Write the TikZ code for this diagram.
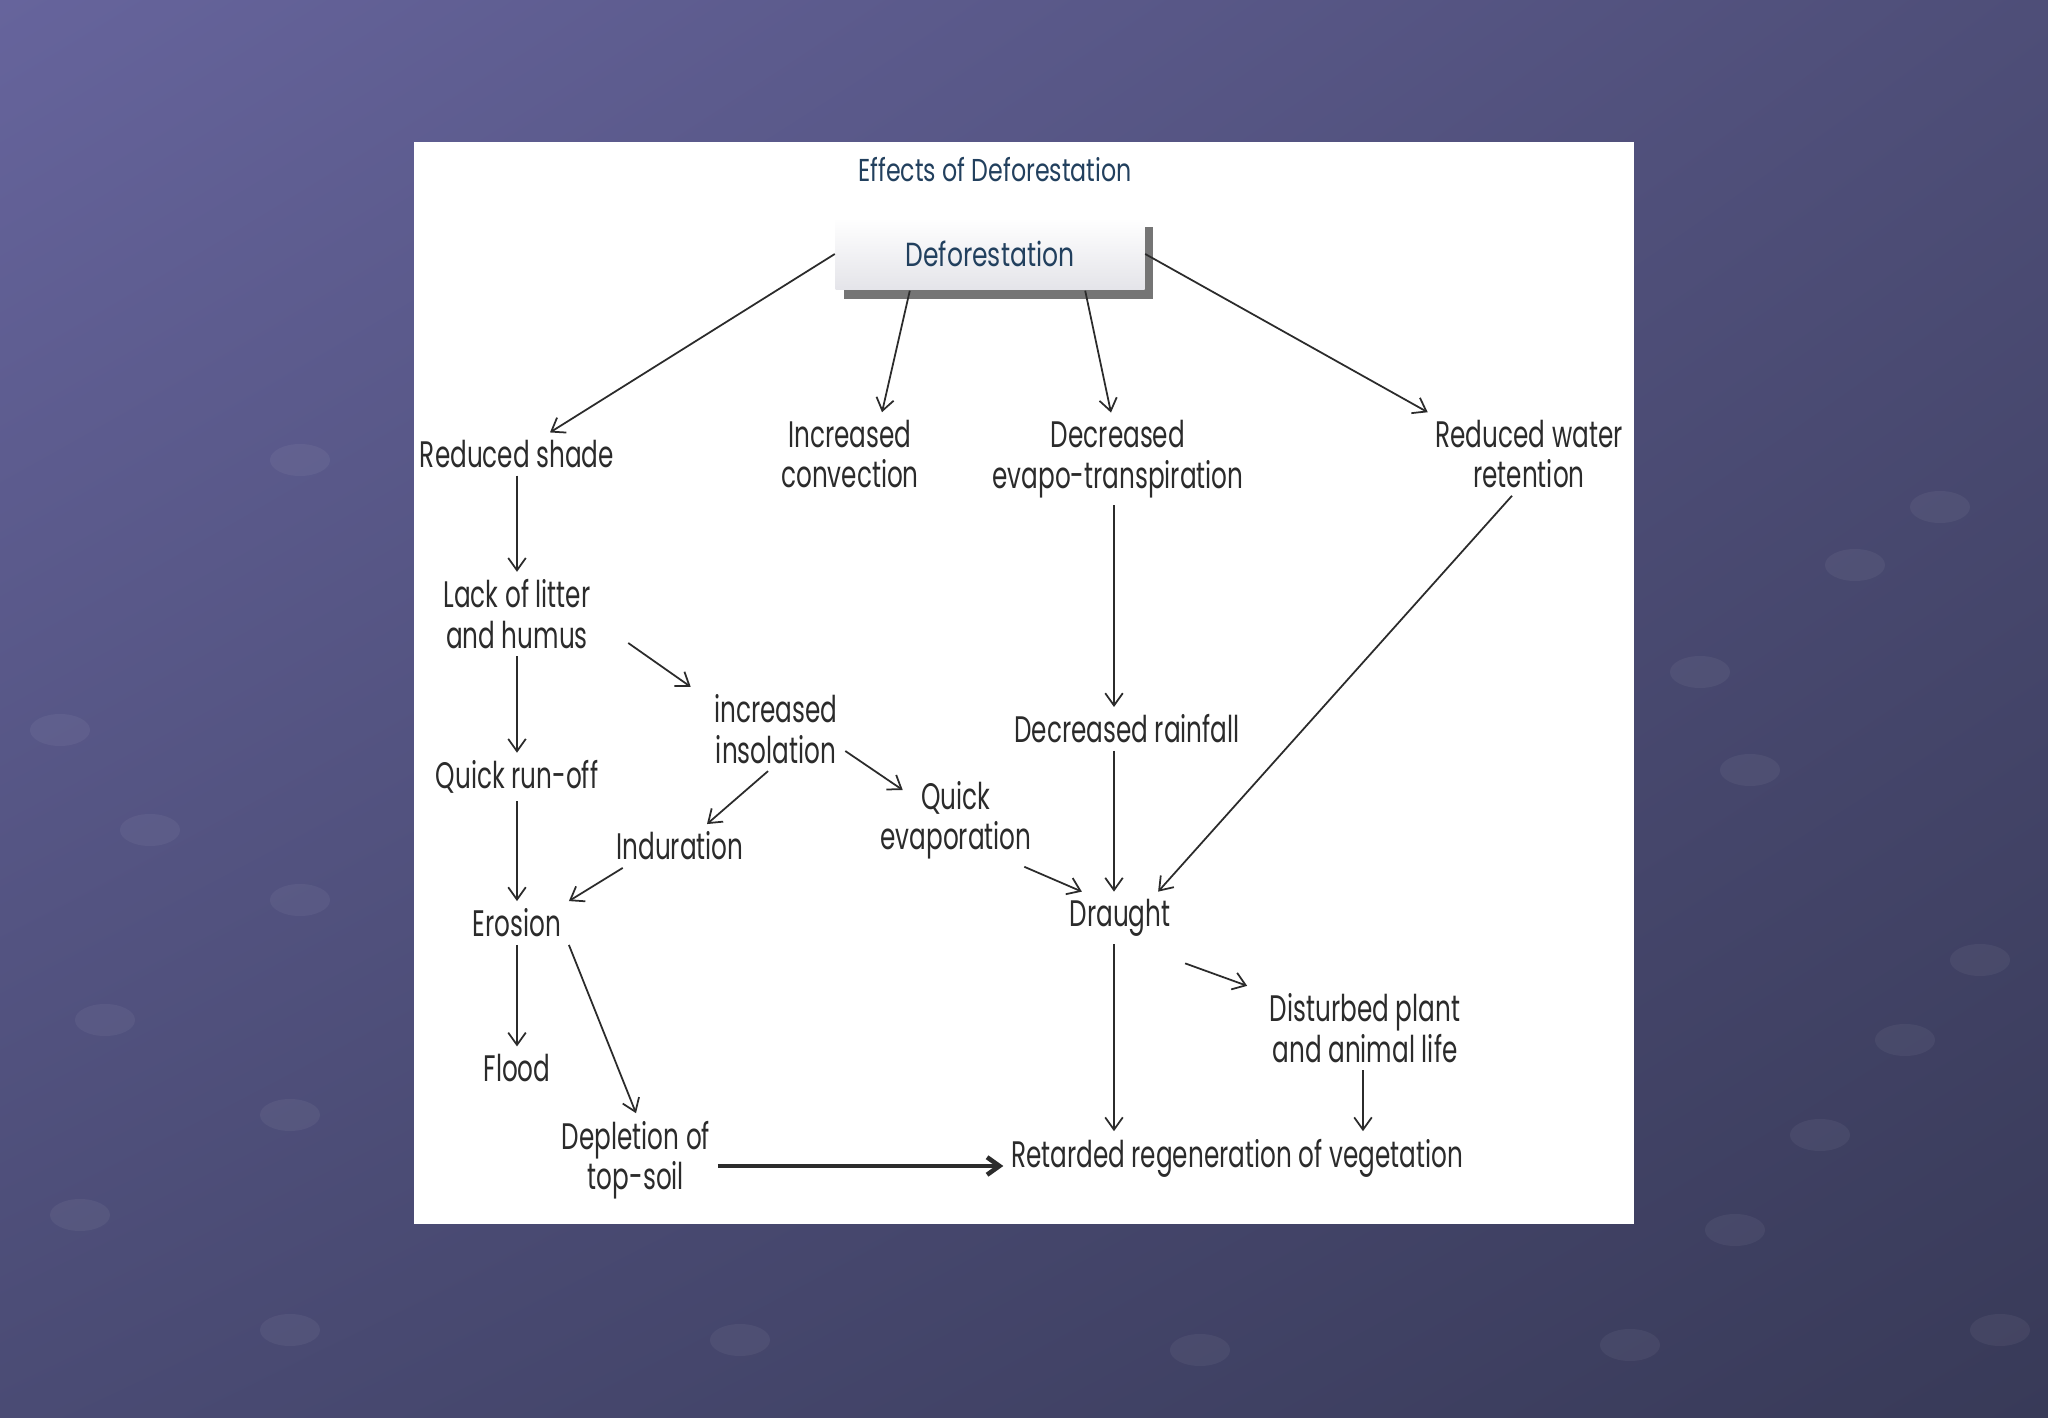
\documentclass[tikz,border=0pt]{standalone}
\usepackage{fontspec}
\setmainfont{Poppins}[FakeStretch=0.67]
\newfontfamily\headfont{Poppins}[FakeStretch=0.75]
\usetikzlibrary{arrows.meta,shadows,shadings}

\definecolor{bgtl}{HTML}{66649C}
\definecolor{bgtr}{HTML}{4E4E78}
\definecolor{bgbl}{HTML}{4A4B74}
\definecolor{bgbr}{HTML}{383A58}
\definecolor{inkgray}{HTML}{2B2B2B}
\definecolor{titleblue}{HTML}{22405E}
\definecolor{boxgray}{HTML}{E4E4E9}

\begin{document}
\begin{tikzpicture}[
    lbl/.style={align=center, text=inkgray, font=\fontsize{10.5}{11.5}\selectfont, inner sep=2pt},
    box/.style={draw=none, top color=white, bottom color=boxgray, minimum width=3.09cm, minimum height=0.72cm,
      text=titleblue, font=\headfont\fontsize{9.5}{11}\selectfont,
      drop shadow={shadow xshift=2.5pt, shadow yshift=-2.5pt, fill=black!60, opacity=0.9}},
    arrow/.style={-{Straight Barb[length=3.5pt,width=5pt]}, line width=0.5pt, draw=inkgray},
    bold arrow/.style={arrow, line width=1.3pt},
    blob/.style={fill=white, opacity=0.05}
  ]
    % slide background
    \shade[upper left=bgtl, upper right=bgtr, lower left=bgbl, lower right=bgbr] (0,0) rectangle (20.48,-14.18);
    \useasboundingbox (0,0) rectangle (20.48,-14.18);
    \foreach \bx/\by in {0.8/-12.15, 2.9/-13.3, 2.9/-11.15, 1.05/-10.2, 3.0/-9.0, 1.5/-8.3, 0.6/-7.3,
        19.4/-5.07, 18.55/-5.65, 17.0/-6.72, 17.5/-7.7, 19.8/-9.6, 19.05/-10.4, 18.2/-11.35,
        17.35/-12.3, 16.3/-13.45, 20.0/-13.3, 7.4/-13.4, 12.0/-13.5, 3.0/-4.6}
      \fill[blob] (\bx,\by) ellipse (0.3 and 0.16);
    % white panel
    \fill[white] (4.14,-1.42) rectangle (16.34,-12.24);

    \node[text=titleblue, font=\headfont\fontsize{9}{11}\selectfont] (title) at (9.95,-1.70) {Effects of Deforestation};
    \node[box] (def) at (9.90,-2.54) {Deforestation};

    \node[lbl] (shade) at (5.17,-4.54) {Reduced shade};
    \node[lbl] (conv) at (8.50,-4.54) {Increased\\convection};
    \node[lbl] (evap) at (11.18,-4.59) {Decreased\\evapo-transpiration};
    \node[lbl] (water) at (15.29,-4.54) {Reduced water\\retention};
    \node[lbl] (litter) at (5.17,-6.14) {Lack of litter\\and humus};
    \node[lbl] (insol) at (7.76,-7.29) {increased\\insolation};
    \node[lbl] (runoff) at (5.17,-7.77) {Quick run-off};
    \node[lbl] (rain) at (11.27,-7.29) {Decreased rainfall};
    \node[lbl] (qevap) at (9.56,-8.20) {Quick\\evaporation};
    \node[lbl] (indur) at (6.80,-8.46) {Induration};
    \node[lbl] (erosion) at (5.17,-9.23) {Erosion};
    \node[lbl] (draught) at (11.20,-9.18) {Draught};
    \node[lbl] (disturb) at (13.65,-10.28) {Disturbed plant\\and animal life};
    \node[lbl] (flood) at (5.17,-10.68) {Flood};
    \node[lbl] (topsoil) at (6.36,-11.60) {Depletion of\\top-soil};
    \node[lbl] (retard) at (12.37,-11.58) {Retarded regeneration of vegetation};

    \draw[arrow] (def.west) -- ([xshift=0.33cm]shade.north);
    \draw[arrow] ([xshift=0.75cm]def.south west) -- ([xshift=0.32cm]conv.north);
    \draw[arrow] ([xshift=-0.6cm]def.south east) -- ([xshift=-0.07cm]evap.north);
    \draw[arrow] (def.east) -- (water.north west);
    \draw[arrow] (shade) -- (litter);
    \draw[arrow] (litter) -- (runoff);
    \draw[arrow] ([shift={(0.3,-0.29)}]litter.east) -- ([xshift=-0.16cm]insol.north west);
    \draw[arrow] (runoff) -- (erosion);
    \draw[arrow] ([yshift=-0.22cm]insol.east) -- ([shift={(0.3,0.3)}]qevap.west);
    \draw[arrow] ([xshift=-0.08cm]insol.south) -- ([xshift=0.27cm]indur.north);
    \draw[arrow] ([xshift=0.14cm]indur.south west) -- (erosion.north east);
    \draw[arrow] (erosion) -- (flood);
    \draw[arrow] (erosion.south east) -- (topsoil.north);
    \draw[arrow] ([xshift=-0.04cm]evap.south) -- ([xshift=-0.04cm]evap.south |- rain.north);
    \draw[arrow] ([xshift=-0.04cm]evap.south |- rain.south) -- ([xshift=-0.04cm]evap.south |- draught.north);
    \draw[arrow] ([xshift=-0.15cm]qevap.south east) -- ([xshift=0.2cm]draught.north west);
    \draw[arrow] ([xshift=-0.17cm]water.south) -- ([xshift=-0.2cm]draught.north east);
    \draw[arrow] ([shift={(0.07,-0.19)}]draught.south east) -- ([xshift=-0.15cm]disturb.north west);
    \draw[arrow] ([xshift=-0.04cm]evap.south |- draught.south) -- ([xshift=-0.04cm]evap.south |- retard.north);
    \draw[arrow] ([xshift=-0.02cm]disturb.south) -- ([xshift=-0.02cm]disturb.south |- retard.north);
    \draw[bold arrow] ([yshift=-0.06cm]topsoil.east) -- ([yshift=-0.06cm]topsoil.east -| retard.west);
  \end{tikzpicture}
\end{document}
